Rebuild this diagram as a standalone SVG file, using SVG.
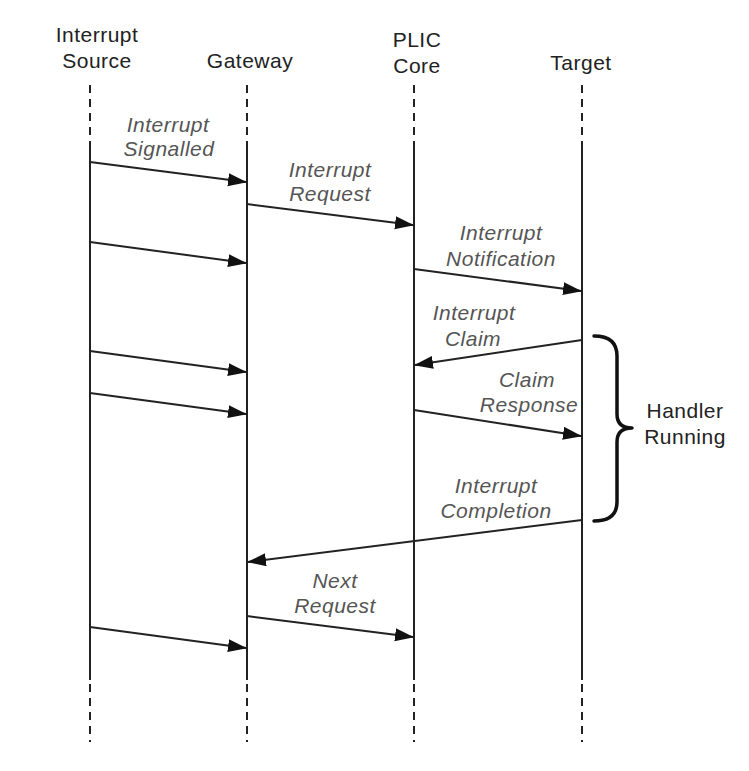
<svg xmlns="http://www.w3.org/2000/svg" width="749" height="771" viewBox="0 0 749 771">
<style>
.hdr{font-family:"Liberation Sans",Arial,sans-serif;font-size:21px;fill:#222;text-anchor:middle;letter-spacing:0.5px}
.lbl{font-family:"Liberation Sans",Arial,sans-serif;font-size:21px;font-style:italic;fill:#555;text-anchor:middle;letter-spacing:0.5px}
.life{stroke:#222;stroke-width:2;fill:none}
.dash{stroke:#222;stroke-width:2;fill:none;stroke-dasharray:8,6}
.msg{stroke:#222;stroke-width:2;fill:none;marker-end:url(#ah)}
.brace{stroke:#111;stroke-width:3.5;fill:none;stroke-linecap:round;stroke-linejoin:round}
</style>
<defs>
<marker id="ah" markerUnits="userSpaceOnUse" markerWidth="19" markerHeight="14" refX="18" refY="6.5" orient="auto">
<path d="M0,0 L19,6.5 L0,13 z" fill="#111"/>
</marker>
</defs>
<rect width="749" height="771" fill="#fff"/>
<g id="source">
<text class="hdr" x="97" y="42">Interrupt</text>
<text class="hdr" x="97" y="68">Source</text>
<line class="dash" x1="90" y1="85" x2="90" y2="145"/>
<line class="life" x1="90" y1="145" x2="90" y2="680"/>
<line class="dash" x1="90" y1="684" x2="90" y2="742"/>
</g>
<g id="gateway">
<text class="hdr" x="250" y="68">Gateway</text>
<line class="dash" x1="247" y1="85" x2="247" y2="145"/>
<line class="life" x1="247" y1="145" x2="247" y2="680"/>
<line class="dash" x1="247" y1="684" x2="247" y2="742"/>
</g>
<g id="plic">
<text class="hdr" x="417" y="47">PLIC</text>
<text class="hdr" x="417" y="73">Core</text>
<line class="dash" x1="414" y1="85" x2="414" y2="145"/>
<line class="life" x1="414" y1="145" x2="414" y2="680"/>
<line class="dash" x1="414" y1="684" x2="414" y2="742"/>
</g>
<g id="target">
<text class="hdr" x="581" y="70">Target</text>
<line class="dash" x1="582" y1="85" x2="582" y2="145"/>
<line class="life" x1="582" y1="145" x2="582" y2="680"/>
<line class="dash" x1="582" y1="684" x2="582" y2="742"/>
</g>
<g id="connectors">
<line class="msg" x1="90" y1="162" x2="246" y2="182"/>
<line class="msg" x1="247" y1="204" x2="413" y2="225"/>
<line class="msg" x1="90" y1="242" x2="246" y2="263"/>
<line class="msg" x1="414" y1="269" x2="581" y2="291"/>
<line class="msg" x1="582" y1="340" x2="415" y2="365"/>
<line class="msg" x1="90" y1="351" x2="246" y2="372"/>
<line class="msg" x1="90" y1="393" x2="246" y2="414"/>
<line class="msg" x1="414" y1="410" x2="581" y2="436"/>
<line class="msg" x1="582" y1="520" x2="248" y2="562"/>
<line class="msg" x1="247" y1="616" x2="413" y2="637"/>
<line class="msg" x1="90" y1="627" x2="246" y2="648"/>
</g>
<g id="labels">
<text class="lbl" x="168" y="132">Interrupt</text>
<text class="lbl" x="169" y="156">Signalled</text>
<text class="lbl" x="330" y="177">Interrupt</text>
<text class="lbl" x="330" y="201">Request</text>
<text class="lbl" x="501" y="240">Interrupt</text>
<text class="lbl" x="501" y="266">Notification</text>
<text class="lbl" x="474" y="320">Interrupt</text>
<text class="lbl" x="473" y="346">Claim</text>
<text class="lbl" x="527" y="387">Claim</text>
<text class="lbl" x="529" y="412">Response</text>
<text class="lbl" x="496" y="493">Interrupt</text>
<text class="lbl" x="496" y="518">Completion</text>
<text class="lbl" x="335" y="588">Next</text>
<text class="lbl" x="335" y="613">Request</text>
</g>
<g id="handler">
<path class="brace" d="M594,336 Q617,336 617,356 L617,414 Q617,428 632,428 Q617,428 617,442 L617,502 Q617,521 594,521"/>
<text class="hdr" x="685" y="418">Handler</text>
<text class="hdr" x="685" y="444">Running</text>
</g>
</svg>
